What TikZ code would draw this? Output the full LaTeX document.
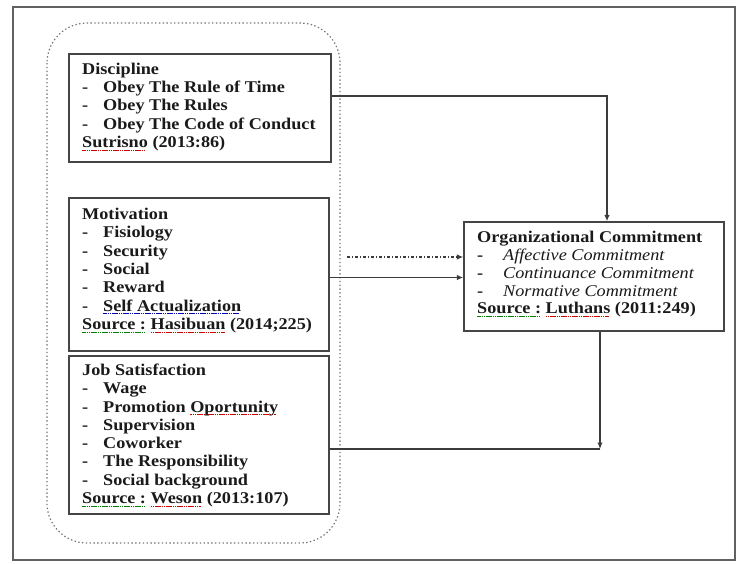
\documentclass[tikz,border=0pt]{standalone}
\usepackage{fontspec}
\setmainfont{Liberation Serif}[FakeStretch=1.11]
\usepackage{xcolor}
\usetikzlibrary{arrows.meta,calc}
\definecolor{inkc}{HTML}{1A1A1A}
\definecolor{linec}{HTML}{454545}
\newsavebox\ulbox
\newcommand\markul[2]{\begingroup\sbox\ulbox{#2}\rlap{\textcolor{#1}{\hbox to\wd\ulbox{\leaders\hbox{\rule[-3pt]{1.6pt}{0.7pt}\kern0.6pt}\hfil}}}\usebox\ulbox\endgroup}
\newcommand\redul[1]{\markul{red!80!black}{#1}}
\newcommand\grnul[1]{\markul{green!50!black}{#1}}
\newcommand\bluul[1]{\markul{blue!70!black}{#1}}
\newcommand\itm[1]{\makebox[21pt][l]{-}#1}
\newcommand\itmo[1]{\makebox[26pt][l]{-}{\mdseries\itshape #1}}
\begin{document}
\begin{tikzpicture}[x=1pt,y=-1pt,
  boxst/.style={draw=linec, line width=1.4pt, inner sep=0pt},
  txt/.style={anchor=north west, inner sep=0pt, align=left, text=inkc,
    font=\fontsize{16.4pt}{18.3pt}\selectfont\bfseries},
  arr/.style={draw=inkc!85, line width=1.2pt, -{Latex[length=6.5pt,width=5.5pt]}},
  lin/.style={draw=inkc!85, line width=1.2pt}]
\useasboundingbox (0,0) rectangle (737,563);
\draw[linec!85, line width=1.4pt] (13,7) rectangle (735,560);
\draw[linec!75, line width=1.2pt, dash pattern=on 1.4pt off 2.4pt, rounded corners=40pt] (47,23) rectangle (340,543);
% boxes
\node[boxst, minimum width=262pt, minimum height=108pt] (disc) at (200,108) {};
\node[boxst, minimum width=260pt, minimum height=153pt] (mot) at (199,274.5) {};
\node[boxst, minimum width=260pt, minimum height=158pt] (job) at (199,435) {};
\node[boxst, minimum width=260pt, minimum height=109pt] (oc) at (594,276.5) {};
% texts
\node[txt] (disct) at (82,62.8) {Discipline\\
\itm{Obey The Rule of Time}\\
\itm{Obey The Rules}\\
\itm{Obey The Code of Conduct}\\
\redul{Sutrisno} (2013:86)};
\node[txt] (mott) at (82,208) {Motivation\\
\itm{Fisiology}\\
\itm{Security}\\
\itm{Social}\\
\itm{Reward}\\
\itm{\bluul{Self Actualization}}\\
\grnul{Source :} \redul{Hasibuan} (2014;225)};
\node[txt] (jobt) at (82,363.7) {Job Satisfaction\\
\itm{Wage}\\
\itm{Promotion \redul{Oportunity}}\\
\itm{Supervision}\\
\itm{Coworker}\\
\itm{The Responsibility}\\
\itm{Social background}\\
\grnul{Source :} \redul{Weson} (2013:107)};
\node[txt, font=\fontsize{16.4pt}{17.9pt}\selectfont\bfseries] (oct) at (477,230.8) {Organizational Commitment\\
\itmo{Affective Commitment}\\
\itmo{Continuance Commitment}\\
\itmo{Normative Commitment}\\
\grnul{Source :} \redul{Luthans} (2011:249)};
% connectors
\draw[arr] ([yshift=12pt]disc.east) -| ([xshift=13pt]oc.north);
\coordinate (dstart) at (347,257);
\draw[arr, dash pattern=on 3pt off 2pt on 1pt off 2pt] (dstart) -- (dstart -| oc.west);
\draw[arr] ([yshift=-3pt]mot.east) coordinate (m1) -- (m1 -| oc.west);
\coordinate (ocb) at ([xshift=6pt]oc.south);
\coordinate (jr) at ([yshift=-14pt]job.east);
\draw[lin] (jr) -- (jr -| ocb);
\draw[arr] (ocb) -- (jr -| ocb);
\end{tikzpicture}
\end{document}
